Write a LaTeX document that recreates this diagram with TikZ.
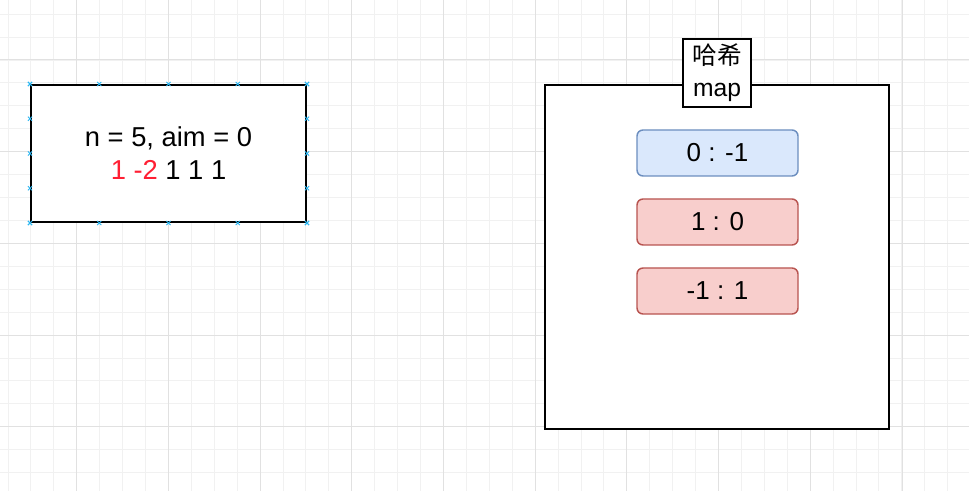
\documentclass[tikz,border=0pt]{standalone}
\usepackage{fontspec}
\setmainfont{Liberation Sans}
\newfontfamily\cjk{Noto Sans CJK SC}
\usetikzlibrary{calc,shapes.misc}

\definecolor{gridminor}{HTML}{F1F1F1}
\definecolor{gridmajor}{HTML}{E1E1E1}
\definecolor{bluefill}{HTML}{DAE8FC}
\definecolor{blueline}{HTML}{6C8EBF}
\definecolor{redfill}{HTML}{F8CECC}
\definecolor{redline}{HTML}{B85450}
\definecolor{pinblue}{HTML}{29B6F2}
\definecolor{hotred}{HTML}{FF1F33}

\tikzset{
  bigbox/.style={draw,line width=1.5pt,fill=white,inner sep=0pt},
  entry/.style={draw,rounded corners=4.5pt,line width=1.1pt,minimum width=120.75pt,minimum height=34.5pt,inner sep=0pt,
                font=\fontsize{19.5}{22}\selectfont},
  pinx/.style={cross out,draw=pinblue,line width=0.6pt,minimum size=2.5pt,inner sep=0pt},
}

\begin{document}
\begin{tikzpicture}[x=0.75pt,y=-0.75pt]
        \useasboundingbox (0,0) rectangle (969,491);
        \fill[white] (0,0) rectangle (969,491);

        % grid
        \foreach \i in {0,...,42}
            \draw[gridminor,line width=0.75pt]({8+22.92*\i},0)--({8+22.92*\i},491);
        \foreach \i in {0,...,21}
            \draw[gridminor,line width=0.75pt](0,{14.2+22.92*\i})--(969,{14.2+22.92*\i});
        \foreach \i in {1,...,10}
            \draw[gridmajor,line width=0.75pt]({-15+91.7*\i},0)--({-15+91.7*\i},491);
        \foreach \i in {0,...,5}
            \draw[gridmajor,line width=0.75pt](0,{60+91.7*\i})--(969,{60+91.7*\i});

        % left box
        \node[bigbox,minimum width=206.25pt,minimum height=102.75pt,align=center,
              font=\fontsize{20.5}{24.75}\selectfont](seq) at (168.5,153.5)
              {n = 5, aim = 0\\\textcolor{hotred}{1 -2} 1 1 1};
        \foreach \t in {0,0.25,0.5,0.75,1}{
            \node[pinx] at ($(seq.north west)!\t!(seq.north east)$){};
            \node[pinx] at ($(seq.south west)!\t!(seq.south east)$){};
            \node[pinx] at ($(seq.north west)!\t!(seq.south west)$){};
            \node[pinx] at ($(seq.north east)!\t!(seq.south east)$){};
        }

        % hash map
        \node[bigbox,minimum width=258pt,minimum height=258pt](hash) at (717,257){};
        \node[bigbox,minimum width=51pt,minimum height=51pt,align=center,
              font=\fontsize{18.5}{24}\selectfont](hashlabel) at (717,73)
              {{\cjk 哈希}\\map};

        \node[entry,fill=bluefill,draw=blueline](e0) at (717.5,153){0 : -1};
        \node[entry,fill=redfill,draw=redline](e1) at (717.5,222){1 : 0};
        \node[entry,fill=redfill,draw=redline](e2) at (717.5,291){-1 : 1};
    \end{tikzpicture}
\end{document}
